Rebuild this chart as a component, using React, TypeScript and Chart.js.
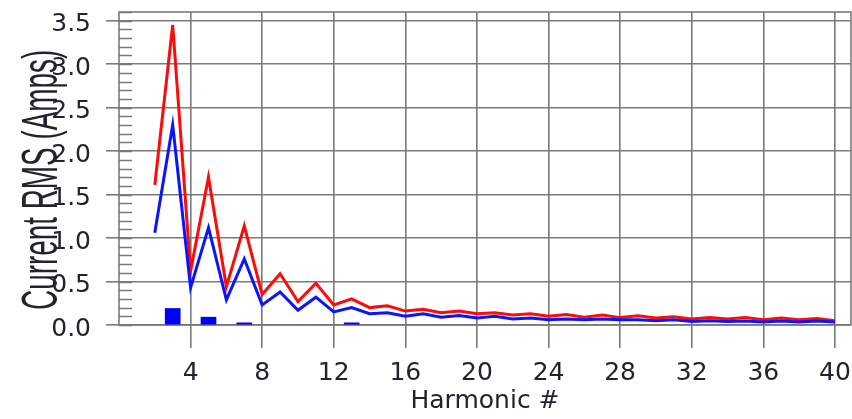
import React, { useEffect, useRef } from "react";
import { Chart, registerables } from "chart.js";

Chart.register(...registerables);

const harmonics = [
  2, 3, 4, 5, 6, 7, 8, 9, 10, 11, 12, 13, 14, 15, 16, 17, 18, 19, 20, 21,
  22, 23, 24, 25, 26, 27, 28, 29, 30, 31, 32, 33, 34, 35, 36, 37, 38, 39, 40,
];
const redCurrent = [
  1.61, 3.45, 0.62, 1.7, 0.44, 1.14, 0.35, 0.59, 0.27, 0.48, 0.23, 0.3, 0.2,
  0.22, 0.16, 0.18, 0.14, 0.16, 0.13, 0.14, 0.115, 0.13, 0.1, 0.12, 0.09,
  0.115, 0.085, 0.105, 0.08, 0.095, 0.07, 0.085, 0.07, 0.085, 0.06, 0.08,
  0.06, 0.075, 0.05,
];
const blueCurrent = [
  1.06, 2.3, 0.43, 1.12, 0.29, 0.76, 0.23, 0.38, 0.17, 0.32, 0.15, 0.2, 0.13,
  0.14, 0.1, 0.13, 0.09, 0.11, 0.08, 0.1, 0.07, 0.08, 0.06, 0.07, 0.06, 0.07,
  0.06, 0.06, 0.05, 0.06, 0.04, 0.05, 0.04, 0.045, 0.035, 0.045, 0.035, 0.045,
  0.035,
];
const barHarmonics = [3, 5, 7, 13];
const barValues = [0.19, 0.09, 0.025, 0.025];
const xTickValues = [4, 8, 12, 16, 20, 24, 28, 32, 36, 40];
const yTickValues = [0, 0.5, 1, 1.5, 2, 2.5, 3, 3.5];
const yMinorStep = 0.1;
const xTitle = "Harmonic #";
const yTitle = "Current RMS (Amps)";

const GRID = "#7a7a7a";
const TEXT = "#23232e";
const FONT = '"DejaVu Sans", "Liberation Sans", sans-serif';

const framePlugin = {
  id: "framePlugin",
  beforeDatasetsDraw(chart: any) {
    const { ctx, chartArea } = chart;
    const y = chart.scales.y;
    ctx.save();
    ctx.strokeStyle = GRID;
    ctx.lineWidth = 1.6;
    ctx.strokeRect(chartArea.left, chartArea.top, chartArea.right - chartArea.left, chartArea.bottom - chartArea.top);
    ctx.beginPath();
    for (let i = 0; i * yMinorStep <= y.max + 1e-9; i++) {
      const v = i * yMinorStep;
      const py = Math.round(y.getPixelForValue(v)) + 0.5;
      ctx.moveTo(chartArea.left, py);
      ctx.lineTo(chartArea.left + 13, py);
    }
    ctx.stroke();
    ctx.restore();
  },
  afterDraw(chart: any) {
    const { ctx } = chart;
    const y = chart.scales.y;
    const top = y.getPixelForValue(3.5) + 29;
    const bottom = y.getPixelForValue(0) - 15;
    const len = bottom - top;
    ctx.save();
    ctx.font = '50px "Liberation Sans", Arial, sans-serif';
    const w = ctx.measureText(yTitle).width;
    ctx.translate(57, (top + bottom) / 2);
    ctx.rotate(-Math.PI / 2);
    ctx.scale(len / w, 1);
    ctx.fillStyle = TEXT;
    ctx.textAlign = "center";
    ctx.textBaseline = "alphabetic";
    ctx.fillText(yTitle, 0, 0);
    ctx.restore();
  },
};

export default function App() {
  const ref = useRef<HTMLCanvasElement | null>(null);
  useEffect(() => {
    if (!ref.current) return;
    const chart = new Chart(ref.current, {
      data: {
        datasets: [
          {
            type: "line",
            label: "Blue",
            data: harmonics.map((h, i) => ({ x: h, y: blueCurrent[i] })),
            borderColor: "#0a14ff",
            borderWidth: 3,
            pointRadius: 0,
            tension: 0,
            order: 1,
          },
          {
            type: "line",
            label: "Red",
            data: harmonics.map((h, i) => ({ x: h, y: redCurrent[i] })),
            borderColor: "#ff0a0a",
            borderWidth: 3,
            pointRadius: 0,
            tension: 0,
            order: 2,
          },
          {
            type: "bar",
            label: "Bars",
            data: barHarmonics.map((h, i) => ({ x: h, y: barValues[i] })),
            backgroundColor: "#0000ff",
            barThickness: 15,
            order: 3,
          },
        ],
      },
      options: {
        animation: false,
        responsive: false,
        layout: { padding: { top: 12, right: 1, left: 0, bottom: 0 } },
        plugins: { legend: { display: false }, tooltip: { enabled: false } },
        scales: {
          x: {
            type: "linear",
            min: 0,
            max: 40.9,
            offset: false,
            afterBuildTicks: (s: any) => {
              s.ticks = xTickValues.map((v) => ({ value: v }));
            },
            afterFit: (s: any) => {
              s.height = 94;
              s.paddingLeft = 0;
              s.paddingRight = 0;
            },
            grid: { color: GRID, lineWidth: 1.6, tickLength: 23, tickColor: GRID, offset: false },
            border: { display: false },
            ticks: {
              color: TEXT,
              font: { family: FONT, size: 25 },
              padding: 10,
              maxRotation: 0,
              autoSkip: false,
            },
            title: {
              display: true,
              text: xTitle,
              color: TEXT,
              font: { family: FONT, size: 25 },
              padding: { top: 0, bottom: 3 },
            },
          },
          y: {
            type: "linear",
            min: 0,
            max: 3.6,
            afterBuildTicks: (s: any) => {
              s.ticks = yTickValues.map((v) => ({ value: v }));
            },
            afterFit: (s: any) => {
              s.width = 119;
              s.paddingTop = 0;
              s.paddingBottom = 0;
            },
            grid: { color: GRID, lineWidth: 1.6, tickLength: 13, tickColor: GRID },
            border: { display: false },
            ticks: {
              color: TEXT,
              font: { family: FONT, size: 25 },
              padding: 15,
              labelOffset: 4,
              callback: (v: any) => Number(v).toFixed(1),
            },
          },
        },
      },
      plugins: [framePlugin],
    } as any);
    return () => chart.destroy();
  }, []);
  return (
    <div style={{ position: "absolute", left: 0, top: 0, width: 852, height: 419, background: "#fff" }}>
      <canvas ref={ref} width={852} height={419} />
    </div>
  );
}
